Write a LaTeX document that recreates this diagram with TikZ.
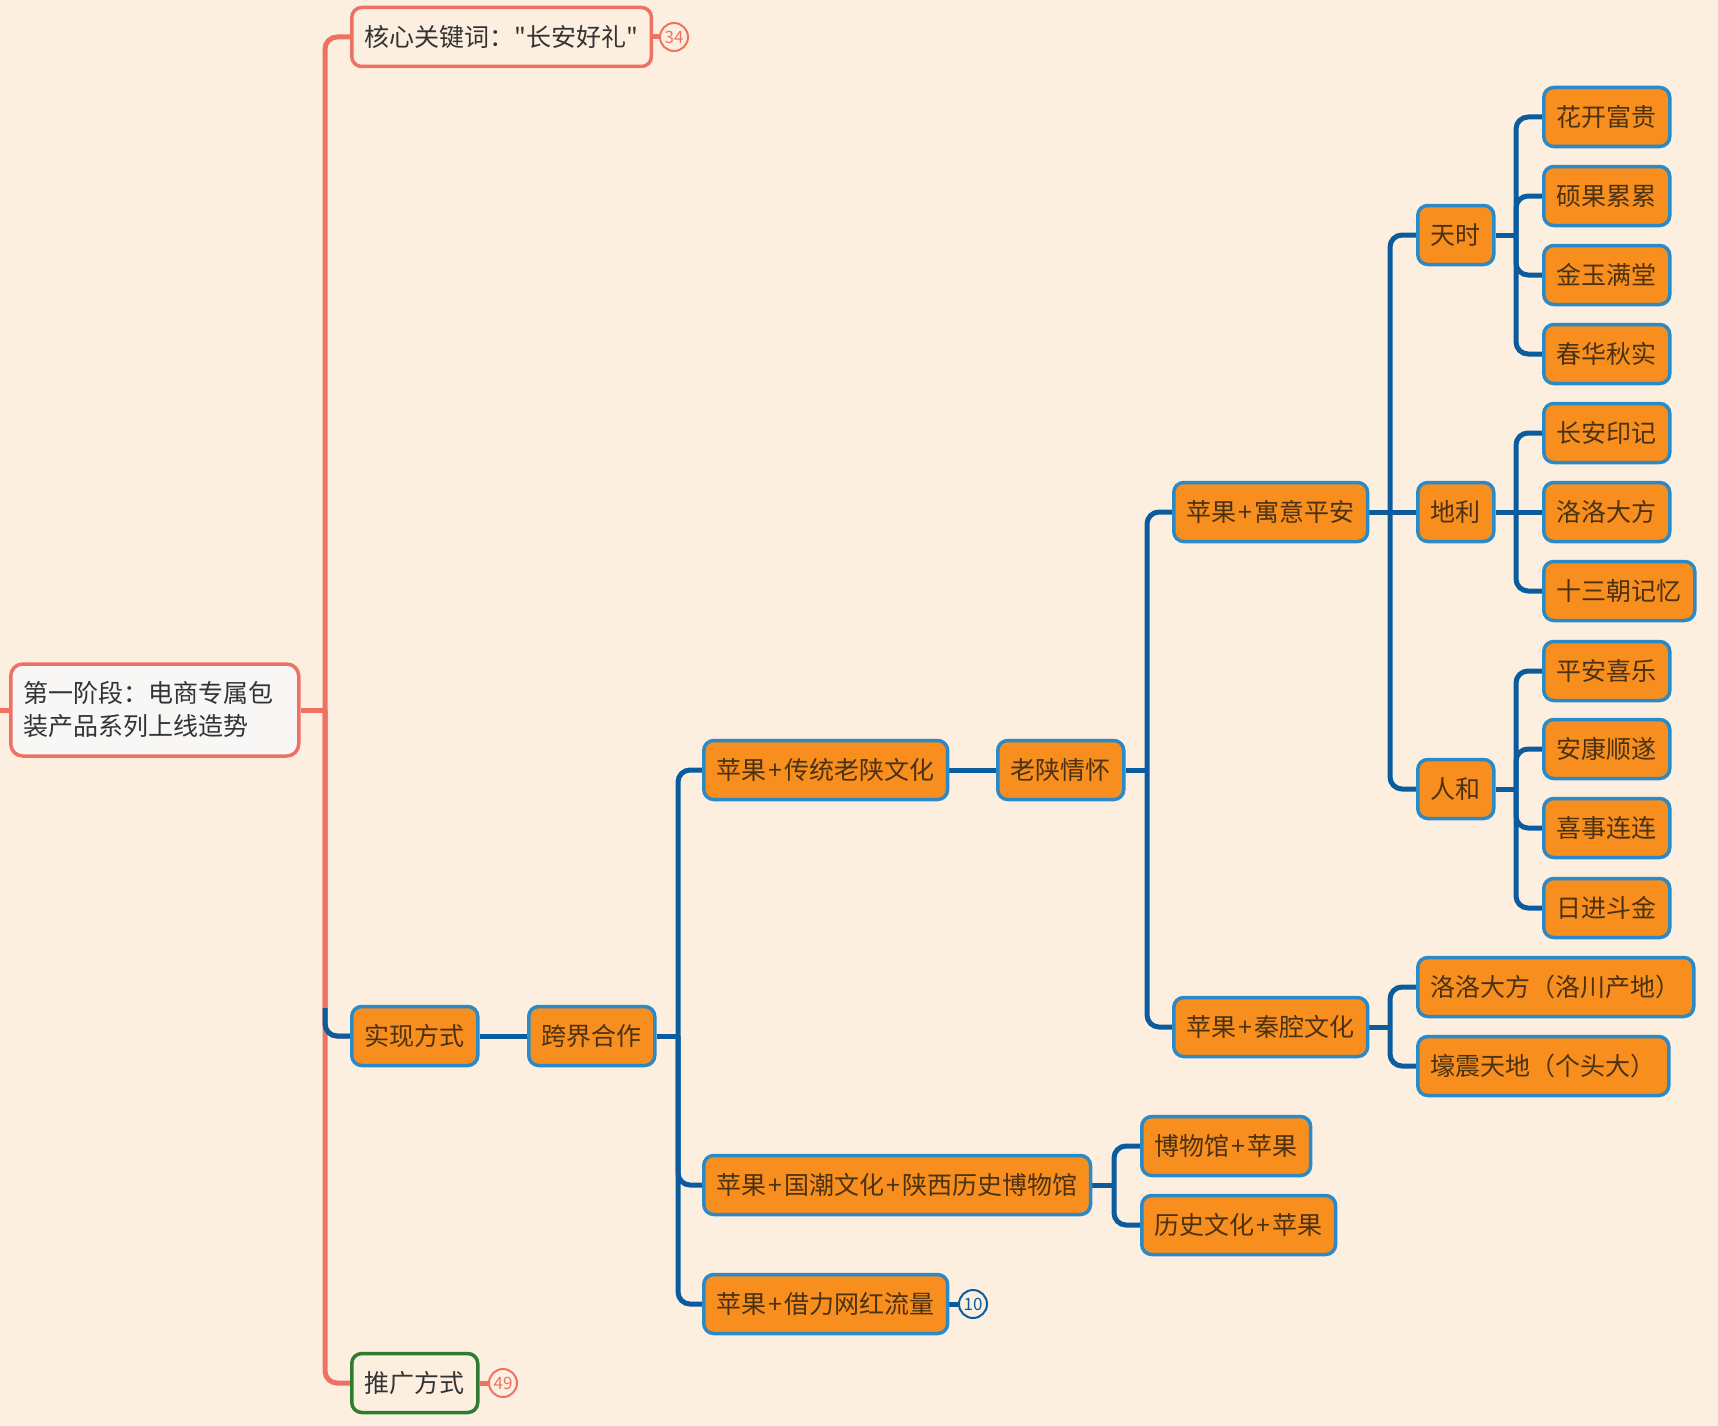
\documentclass[tikz,border=0pt]{standalone}
\usepackage{fontspec}
\setmainfont{Noto Sans CJK SC}[Ligatures=TeXOff]
\usetikzlibrary{backgrounds}
\definecolor{bg}{HTML}{FDEFE0}
\definecolor{orng}{HTML}{F78E1E}
\definecolor{nodeblue}{HTML}{2A8AC8}
\definecolor{linkblue}{HTML}{0B5C9E}
\definecolor{coral}{HTML}{EE7263}
\definecolor{grn}{HTML}{2E7D2E}
\definecolor{txtbrown}{HTML}{4A3212}
\definecolor{txtgray}{HTML}{333333}
\definecolor{rootfill}{HTML}{F8F7F5}
\newcommand\mmbranch[4]{\draw[#4] (#1.east -| #2) |- (#3.west);}
\newcommand\pl{\kern2pt+\kern2pt}
\begin{document}
\begin{tikzpicture}[x=1pt,y=-1pt,
  font=\fontsize{25}{33}\selectfont,
  obox/.style={draw=nodeblue, line width=3.5pt, fill=orng, rounded corners=10pt,
    minimum height=59pt, inner xsep=13pt, inner ysep=0pt, anchor=west, text=txtbrown},
  wbox/.style={draw=coral, line width=3.5pt, fill=bg, rounded corners=10pt,
    minimum height=59pt, inner xsep=13pt, inner ysep=0pt, anchor=west, text=txtgray},
  gbox/.style={wbox, draw=grn},
  rootbox/.style={draw=coral, line width=3.5pt, fill=rootfill, rounded corners=12pt,
    minimum height=92pt, text width=262pt, inner xsep=13pt, align=left, anchor=west, text=txtgray},
  blink/.style={draw=linkblue, line width=5pt, rounded corners=12pt},
  clink/.style={draw=coral, line width=5pt, rounded corners=12pt},
  badge/.style={circle, draw=#1, line width=2pt, fill=bg, text=#1, inner sep=0pt,
    minimum size=28pt, font=\fontsize{17}{17}\selectfont},
  leaf/.style={obox}
]
\useasboundingbox (0,0) rectangle (1718,1426);

% nodes
\node[rootbox] (root) at (9,710) {第一阶段：电商专属包\\装产品系列上线造势};
\node[wbox] (kw) at (350,37) {核心关键词："长安好礼"};
\node[obox] (ss) at (350,1036) {实现方式};
\node[gbox] (tg) at (350,1383) {推广方式};
\node[obox] (kj) at (527,1036) {跨界合作};
\node[obox] (ct) at (702,770) {苹果\pl 传统老陕文化};
\node[obox] (lq) at (996,770) {老陕情怀};
\node[obox] (gc) at (702,1185) {苹果\pl 国潮文化\pl 陕西历史博物馆};
\node[obox] (wh) at (702,1304) {苹果\pl 借力网红流量};
\node[obox] (yy) at (1172,512) {苹果\pl 寓意平安};
\node[obox] (qq) at (1172,1027) {苹果\pl 秦腔文化};
\node[obox] (ts) at (1416,235) {天时};
\node[obox] (dl) at (1416,512) {地利};
\node[obox] (rh) at (1416,789) {人和};
\node[leaf] (l1) at (1542,117) {花开富贵};
\node[leaf] (l2) at (1542,196) {硕果累累};
\node[leaf] (l3) at (1542,275) {金玉满堂};
\node[leaf] (l4) at (1542,354) {春华秋实};
\node[leaf] (l5) at (1542,433) {长安印记};
\node[leaf] (l6) at (1542,512) {洛洛大方};
\node[leaf] (l7) at (1542,591) {十三朝记忆};
\node[leaf] (l8) at (1542,671) {平安喜乐};
\node[leaf] (l9) at (1542,749) {安康顺遂};
\node[leaf] (l10) at (1542,828) {喜事连连};
\node[leaf] (l11) at (1542,908) {日进斗金};
\node[obox] (q1) at (1416,987) {洛洛大方（洛川产地）};
\node[obox] (q2) at (1416,1066) {壕震天地（个头大）};
\node[obox] (g1) at (1140,1146) {博物馆\pl 苹果};
\node[obox] (g2) at (1140,1225) {历史文化\pl 苹果};
\node[badge=coral] (b34) at (674,37) {34};
\node[badge=linkblue] (b10) at (973,1304) {10};
\node[badge=coral] (b49) at (503,1383) {49};

% trunk coordinates
\coordinate (tc) at (325,0);
\coordinate (t1) at (678,0);
\coordinate (t2) at (1147,0);
\coordinate (t3) at (1390,0);
\coordinate (t4) at (1516,0);
\coordinate (t5) at (1114,0);
\coordinate (lstub) at (0,710);
\coordinate (sscorner) at (325,1008);

\begin{scope}[on background layer]
\fill[bg] (0,0) rectangle (1718,1426);
% coral main tree
\draw[clink] (lstub) -- (root.west);
\draw[clink] (root.east) -- (root.east -| tc);
\mmbranch{root}{tc}{kw}{clink}
\mmbranch{root}{tc}{ss}{clink}
\mmbranch{root}{tc}{tg}{clink}
\draw[blink] (sscorner) |- (ss.west);
\draw[clink] (kw.east) -- (b34.west);
\draw[clink] (tg.east) -- (b49.west);
% blue trees
\draw[blink] (ss.east) -- (kj.west);
\draw[blink] (kj.east) -- (kj.east -| t1);
\mmbranch{kj}{t1}{ct}{blink}
\mmbranch{kj}{t1}{gc}{blink}
\mmbranch{kj}{t1}{wh}{blink}
\draw[blink] (ct.east) -- (lq.west);
\draw[blink] (wh.east) -- (b10.west);
\draw[blink] (lq.east) -- (lq.east -| t2);
\mmbranch{lq}{t2}{yy}{blink}
\mmbranch{lq}{t2}{qq}{blink}
\draw[blink] (yy.east) -- (dl.west);
\mmbranch{yy}{t3}{ts}{blink}
\mmbranch{yy}{t3}{rh}{blink}
\draw[blink] (ts.east) -- (ts.east -| t4);
\mmbranch{ts}{t4}{l1}{blink}
\mmbranch{ts}{t4}{l2}{blink}
\mmbranch{ts}{t4}{l3}{blink}
\mmbranch{ts}{t4}{l4}{blink}
\draw[blink] (dl.east) -- (l6.west);
\mmbranch{dl}{t4}{l5}{blink}
\mmbranch{dl}{t4}{l7}{blink}
\draw[blink] (rh.east) -- (rh.east -| t4);
\mmbranch{rh}{t4}{l8}{blink}
\mmbranch{rh}{t4}{l9}{blink}
\mmbranch{rh}{t4}{l10}{blink}
\mmbranch{rh}{t4}{l11}{blink}
\draw[blink] (qq.east) -- (qq.east -| t3);
\mmbranch{qq}{t3}{q1}{blink}
\mmbranch{qq}{t3}{q2}{blink}
\draw[blink] (gc.east) -- (gc.east -| t5);
\mmbranch{gc}{t5}{g1}{blink}
\mmbranch{gc}{t5}{g2}{blink}
\end{scope}
\end{tikzpicture}
\end{document}
